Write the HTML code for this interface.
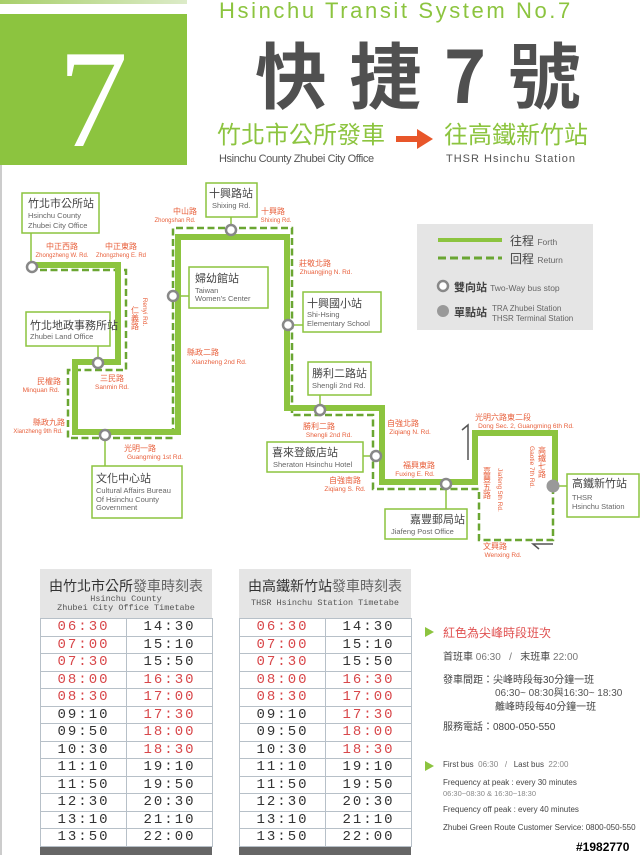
<!DOCTYPE html>
<html><head><meta charset="utf-8">
<style>
html,body{margin:0;padding:0;background:#fff;}
body{width:640px;height:855px;position:relative;overflow:hidden;font-family:"Liberation Sans","Noto Sans CJK TC",sans-serif;}
.a{position:absolute;white-space:nowrap;}
table{border-collapse:collapse;position:absolute;table-layout:fixed;}
td{height:16.5px;line-height:16px;padding:0;border:1px solid #b7c0c8;text-align:center;font-family:"Liberation Mono",monospace;font-size:14px;letter-spacing:2px;color:#333;width:85px;overflow:hidden;}
td.r{color:#d8474a;}
.v{writing-mode:vertical-rl;}
</style></head><body>
<div class="a" style="left:0;top:0;width:187px;height:4px;background:linear-gradient(90deg,#a8cf6a,#dcebc8);"></div>
<div class="a" style="left:0;top:14px;width:187px;height:151px;background:#8cc43f;"></div>
<div class="a" style="left:0;top:165px;width:2px;height:690px;background:#ccc;"></div>
<div class="a" style="left:58px;top:30px;font-family:'Liberation Serif',serif;font-size:140px;color:#fff;line-height:140px;">7</div>
<div class="a" style="left:219px;top:-2px;font-size:22px;letter-spacing:2.6px;color:#8cc43f;">Hsinchu Transit System No.7</div>
<div class="a" style="left:255px;top:22px;font-family:'Noto Sans CJK TC',sans-serif;font-size:72px;line-height:100px;color:#505050;letter-spacing:3px;font-weight:bold;">快 捷 7 號</div>
<div class="a" style="left:217px;top:116px;font-family:'Noto Sans CJK TC',sans-serif;font-size:24px;line-height:34px;color:#8cc43f;">竹北市公所發車</div>
<div class="a" style="left:444px;top:116px;font-family:'Noto Sans CJK TC',sans-serif;font-size:24px;line-height:34px;color:#8cc43f;">往高鐵新竹站</div>
<svg class="a" style="left:396px;top:128px" width="38" height="22"><rect x="0" y="8" width="23" height="6" fill="#e8562a"/><polygon points="21,1 37,11 21,21" fill="#e8562a"/></svg>
<div class="a" style="left:219px;top:153px;font-size:11px;color:#555;letter-spacing:-0.4px;">Hsinchu County Zhubei City Office</div>
<div class="a" style="left:446px;top:153px;font-size:11px;color:#555;letter-spacing:1px;">THSR Hsinchu Station</div>

<svg class="a" style="left:0;top:0" width="640" height="560" font-family="Liberation Sans,Noto Sans CJK TC,sans-serif">
<rect x="417" y="224" width="176" height="106" fill="#e5e5e5"/>
<line x1="438" y1="240" x2="502" y2="240" stroke="#8cc43f" stroke-width="4"/>
<line x1="438" y1="258" x2="502" y2="258" stroke="#6aa632" stroke-width="3" stroke-dasharray="8,4"/>
<text x="510" y="245" font-size="12" fill="#444">往程 <tspan font-size="8.5" fill="#666">Forth</tspan></text>
<text x="510" y="263" font-size="12" fill="#444">回程 <tspan font-size="8.5" fill="#666">Return</tspan></text>
<circle cx="443" cy="286" r="5" fill="#fff" stroke="#888" stroke-width="2.5"/>
<text x="454" y="291" font-size="11" fill="#444" font-weight="bold">雙向站 <tspan font-size="8.5" fill="#666" font-weight="normal">Two-Way bus stop</tspan></text>
<circle cx="443" cy="311" r="6" fill="#999"/>
<text x="454" y="316" font-size="11" fill="#444" font-weight="bold">單點站</text>
<text x="492" y="311" font-size="8" fill="#666">TRA Zhubei Station</text>
<text x="492" y="321" font-size="8" fill="#666">THSR Terminal Station</text>

<polyline fill="none" stroke="#6aa632" stroke-width="2.5" stroke-dasharray="7,3.5" points="553,487 553,540 479,540 479,489 373,489 373,415 292,415 292,228 173,228 173,438 68,438 68,370 126,370 126,270 32,270"/>
<polyline fill="none" stroke="#8cc43f" stroke-width="6" stroke-linejoin="miter" points="32,265 118,265 118,362 75,362 75,432 178,432 178,237 287,237 287,408 382,408 382,482 475,482 475,433 555,433 555,486"/>

<g stroke="#8cc43f" stroke-width="1.5" fill="#fff">
<line x1="31" y1="233" x2="31" y2="262"/><line x1="98" y1="346" x2="98" y2="360"/>
<line x1="231" y1="217" x2="231" y2="227"/><line x1="176" y1="296" x2="189" y2="296"/>
<line x1="105" y1="439" x2="105" y2="466"/><line x1="292" y1="325" x2="303" y2="325"/>
<line x1="320" y1="395" x2="320" y2="407"/><line x1="363" y1="456" x2="373" y2="456"/>
<line x1="446" y1="487" x2="446" y2="509"/><line x1="556" y1="486" x2="567" y2="486"/>
<rect x="22" y="193" width="77" height="40"/><rect x="26" y="312" width="84" height="34"/>
<rect x="206" y="183" width="51" height="34"/><rect x="189" y="267" width="79" height="41"/>
<rect x="92" y="466" width="90" height="52"/><rect x="303" y="292" width="78" height="40"/>
<rect x="308" y="362" width="63" height="33"/><rect x="267" y="442" width="96" height="30"/>
<rect x="385" y="509" width="82" height="30"/><rect x="567" y="474" width="72" height="43"/>
</g>
<g fill="#fff" stroke="#888" stroke-width="2.5">
<circle cx="32" cy="267" r="5"/><circle cx="231" cy="230" r="5"/><circle cx="173" cy="296" r="5"/>
<circle cx="288" cy="325" r="5"/><circle cx="98" cy="363" r="5"/><circle cx="105" cy="435" r="5"/>
<circle cx="320" cy="410" r="5"/><circle cx="376" cy="456" r="5"/><circle cx="446" cy="484" r="5"/>
</g>
<circle cx="553" cy="486" r="6.5" fill="#999"/>
<path d="M462,430 L468,425 L468,460" fill="none" stroke="#555" stroke-width="1.5"/>
<path d="M553,544 L533,544 L539,549" fill="none" stroke="#555" stroke-width="1.5"/>

<g fill="#444" font-size="11">
<text x="28" y="207">竹北市公所站</text>
<text x="209" y="197">十興路站</text><text x="195" y="282">婦幼館站</text>
<text x="96" y="482">文化中心站</text><text x="307" y="307">十興國小站</text>
<text x="312" y="377">勝利二路站</text><text x="272" y="456">喜來登飯店站</text>
<text x="410" y="523">嘉豐郵局站</text><text x="572" y="487">高鐵新竹站</text>
<text x="30" y="329">竹北地政事務所站</text>
</g>
<g fill="#666" font-size="7.5">
<text x="28" y="218">Hsinchu County</text><text x="28" y="228">Zhubei City Office</text>
<text x="30" y="339">Zhubei Land Office</text>
<text x="212" y="208">Shixing Rd.</text>
<text x="195" y="293">Taiwan</text><text x="195" y="301">Women's Center</text>
<text x="96" y="493">Cultural Affairs Bureau</text><text x="96" y="502">Of Hsinchu County</text><text x="96" y="510">Government</text>
<text x="307" y="317">Shi-Hsing</text><text x="307" y="326">Elementary School</text>
<text x="312" y="388">Shengli 2nd Rd.</text><text x="273" y="467">Sheraton Hsinchu Hotel</text>
<text x="391" y="534">Jiafeng Post Office</text>
<text x="572" y="500">THSR</text><text x="572" y="509">Hsinchu Station</text>
</g>
<g fill="#e8603c" font-size="8" text-anchor="middle">
<text x="62" y="249">中正西路</text><text x="62" y="257" font-size="6">Zhongzheng W. Rd.</text>
<text x="121" y="249">中正東路</text><text x="121" y="257" font-size="6">Zhongzheng E. Rd</text>
<text x="185" y="214">中山路</text><text x="175" y="222" font-size="6">Zhongshan Rd.</text>
<text x="273" y="214">十興路</text><text x="276" y="222" font-size="6">Shixing Rd.</text>
<text x="315" y="266">莊敬北路</text><text x="326" y="274" font-size="6.5">Zhuangjing N. Rd.</text>
<text x="203" y="355">縣政二路</text><text x="219" y="364" font-size="6.5">Xianzheng 2nd Rd.</text>
<text x="49" y="384">民權路</text><text x="41" y="392" font-size="6.5">Minquan Rd.</text>
<text x="112" y="381">三民路</text><text x="112" y="389" font-size="6.5">Sanmin Rd.</text>
<text x="49" y="425">縣政九路</text><text x="38" y="433" font-size="6">Xianzheng 9th Rd.</text>
<text x="140" y="451">光明一路</text><text x="155" y="459" font-size="6.5">Guangming 1st Rd.</text>
<text x="319" y="429">勝利二路</text><text x="329" y="437" font-size="6.5">Shengli 2nd Rd.</text>
<text x="403" y="426">自強北路</text><text x="410" y="434" font-size="6.5">Ziqiang N. Rd.</text>
<text x="419" y="468">福興東路</text><text x="415" y="476" font-size="6.5">Fuxing E. Rd.</text>
<text x="345" y="483">自強南路</text><text x="345" y="491" font-size="6.5">Ziqiang S. Rd.</text>
<text x="503" y="420">光明六路東二段</text><text x="526" y="428" font-size="6.5">Dong Sec. 2, Guangming 6th Rd.</text>
<text x="495" y="549">文興路</text><text x="503" y="557" font-size="6.5">Wenxing Rd.</text>
<text x="135" y="318" class="v">仁義路</text>
<text x="143" y="312" font-size="6.5" transform="rotate(90 143 312)">Renyi Rd.</text>
<text x="487" y="483" class="v">嘉豐五路</text>
<text x="498" y="490" font-size="6.5" transform="rotate(90 498 490)">Jiafeng 5th Rd.</text>
<text x="542" y="462" class="v">高鐵七路</text>
<text x="530" y="467" font-size="6.5" transform="rotate(90 530 467)">Gaotie 7th Rd.</text>
</g>
</svg>

<!-- timetables -->
<div class="a" style="left:40px;top:569px;width:172px;height:49px;background:#e5e5e5;text-align:center;">
<div style="font-size:14px;color:#333;margin-top:8px;font-family:'Noto Sans CJK TC',sans-serif;line-height:18px;">由竹北市公所<span style="color:#666">發車時刻表</span></div>
<div style="font-family:'Liberation Mono',monospace;font-size:8.5px;color:#555;line-height:9px;">Hsinchu County<br>Zhubei City Office Timetabe</div></div>
<div class="a" style="left:239px;top:569px;width:172px;height:49px;background:#e5e5e5;text-align:center;">
<div style="font-size:14px;color:#333;margin-top:8px;font-family:'Noto Sans CJK TC',sans-serif;line-height:18px;">由高鐵新竹站<span style="color:#666">發車時刻表</span></div>
<div style="font-family:'Liberation Mono',monospace;font-size:8.5px;color:#555;line-height:16px;">THSR Hsinchu Station Timetabe</div></div>
<div class="a" style="left:40px;top:847px;width:172px;height:8px;background:#666;"></div>
<div class="a" style="left:239px;top:847px;width:172px;height:8px;background:#666;"></div>

<table style="left:40px;top:618px;width:172px;">
<tr><td class="r">06:30</td><td>14:30</td></tr><tr><td class="r">07:00</td><td>15:10</td></tr>
<tr><td class="r">07:30</td><td>15:50</td></tr><tr><td class="r">08:00</td><td class="r">16:30</td></tr>
<tr><td class="r">08:30</td><td class="r">17:00</td></tr><tr><td>09:10</td><td class="r">17:30</td></tr>
<tr><td>09:50</td><td class="r">18:00</td></tr><tr><td>10:30</td><td class="r">18:30</td></tr>
<tr><td>11:10</td><td>19:10</td></tr><tr><td>11:50</td><td>19:50</td></tr>
<tr><td>12:30</td><td>20:30</td></tr><tr><td>13:10</td><td>21:10</td></tr><tr><td>13:50</td><td>22:00</td></tr>
</table>
<table style="left:239px;top:618px;width:172px;">
<tr><td class="r">06:30</td><td>14:30</td></tr><tr><td class="r">07:00</td><td>15:10</td></tr>
<tr><td class="r">07:30</td><td>15:50</td></tr><tr><td class="r">08:00</td><td class="r">16:30</td></tr>
<tr><td class="r">08:30</td><td class="r">17:00</td></tr><tr><td>09:10</td><td class="r">17:30</td></tr>
<tr><td>09:50</td><td class="r">18:00</td></tr><tr><td>10:30</td><td class="r">18:30</td></tr>
<tr><td>11:10</td><td>19:10</td></tr><tr><td>11:50</td><td>19:50</td></tr>
<tr><td>12:30</td><td>20:30</td></tr><tr><td>13:10</td><td>21:10</td></tr><tr><td>13:50</td><td>22:00</td></tr>
</table>

<!-- info -->
<svg class="a" style="left:425px;top:627px" width="10" height="10"><polygon points="0,0 9,5 0,10" fill="#8cc43f"/></svg>
<div class="a" style="left:443px;top:624px;font-size:12px;color:#e05050;">紅色為尖峰時段班次</div>
<div class="a" style="left:443px;top:648px;font-size:10px;color:#444;">首班車 <span style="color:#777">06:30 &nbsp; / &nbsp;</span> 末班車 <span style="color:#777">22:00</span></div>
<div class="a" style="left:443px;top:671px;font-size:10px;color:#444;">發車間距：尖峰時段每30分鐘一班</div>
<div class="a" style="left:495px;top:684px;font-size:10px;color:#555;">06:30~ 08:30與16:30~ 18:30</div>
<div class="a" style="left:495px;top:698px;font-size:10px;color:#444;">離峰時段每40分鐘一班</div>
<div class="a" style="left:443px;top:718px;font-size:10px;color:#444;">服務電話：0800-050-550</div>
<svg class="a" style="left:425px;top:761px" width="10" height="10"><polygon points="0,0 9,5 0,10" fill="#8cc43f"/></svg>
<div class="a" style="left:443px;top:760px;font-size:8px;color:#444;">First bus <span style="color:#888">&nbsp;06:30 &nbsp; / &nbsp;</span> Last bus <span style="color:#888">&nbsp;22:00</span></div>
<div class="a" style="left:443px;top:778px;font-size:8px;color:#444;">Frequency at peak : every 30 minutes</div>
<div class="a" style="left:443px;top:789px;font-size:7.5px;color:#888;">06:30~08:30 &amp; 16:30~18:30</div>
<div class="a" style="left:443px;top:805px;font-size:8px;color:#444;">Frequency off peak : every 40 minutes</div>
<div class="a" style="left:443px;top:823px;font-size:8px;color:#444;">Zhubei Green Route Customer Service: 0800-050-550</div>
<div class="a" style="left:576px;top:840px;font-size:12px;font-weight:bold;color:#000;text-shadow:0 0 2px #fff;">#1982770</div>
</body></html>
